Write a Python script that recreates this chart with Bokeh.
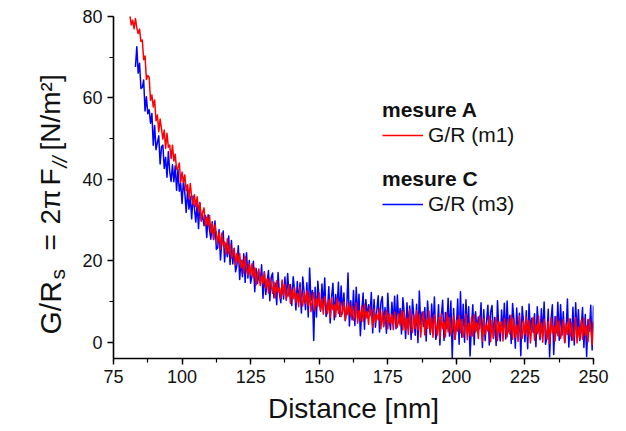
import numpy as np
from math import pi

from bokeh.plotting import figure
from bokeh.layouts import row
from bokeh.models import Legend, LegendItem, Range1d, SingleIntervalTicker
from bokeh.core.properties import value
from bokeh.embed import file_html
from bokeh.resources import INLINE

# ---------------------------------------------------------------------------
# Measured G/R_s versus distance, sampled every 0.5 nm
# ---------------------------------------------------------------------------
DIST_M1 = np.arange(81.0, 250.25, 0.5)   # mesure A, 81 -> 250 nm
DIST_M3 = np.arange(83.0, 250.25, 0.5)   # mesure C, 83 -> 250 nm

GR_M1 = [
    80.2, 77.9, 79.1, 77.0, 79.5, 77.2, 75.8, 76.9, 73.9, 74.2,
    69.4, 70.3, 64.5, 65.5, 65.1, 59.4, 60.7, 57.8, 59.5, 54.4,
    55.8, 51.7, 54.8, 52.4, 49.9, 52.1, 47.6, 51.3, 47.9, 48.4,
    45.1, 48.4, 44.5, 46.2, 42.4, 42.8, 44.0, 39.3, 41.8, 39.2,
    41.1, 37.2, 38.7, 35.3, 39.0, 35.6, 33.8, 36.2, 33.3, 35.7,
    32.0, 34.1, 29.7, 31.9, 33.0, 28.6, 30.7, 28.6, 31.1, 26.9,
    29.1, 25.3, 28.8, 26.7, 24.5, 27.0, 22.9, 26.8, 23.8, 24.6,
    21.6, 25.4, 21.8, 24.0, 20.6, 21.5, 23.1, 18.9, 21.8, 19.6,
    21.8, 18.3, 20.1, 17.0, 21.1, 17.9, 16.5, 19.2, 16.6, 19.3,
    15.9, 18.3, 14.1, 16.7, 18.0, 13.9, 16.3, 14.5, 17.2, 13.3,
    15.6, 12.1, 15.8, 14.0, 12.0, 14.8, 10.9, 15.1, 12.3, 13.3,
    10.8, 15.3, 11.6, 14.2, 10.7, 11.8, 14.1, 9.5, 13.0, 10.7,
    13.5, 9.7, 11.9, 8.7, 13.5, 10.3, 8.9, 12.2, 9.5, 12.7,
    9.0, 12.0, 7.5, 10.5, 12.2, 7.7, 10.7, 8.8, 12.1, 7.8,
    10.6, 6.9, 11.2, 9.3, 7.1, 10.4, 6.1, 10.9, 8.0, 9.2,
    6.2, 10.8, 7.1, 9.8, 6.3, 7.6, 9.9, 5.4, 8.9, 6.7,
    9.7, 6.3, 8.8, 5.4, 6.6, 9.7, 4.7, 7.7, 5.3, 8.9,
    5.1, 9.3, 5.8, 7.5, 4.4, 8.7, 6.9, 3.7, 8.1, 4.9,
    6.9, 5.5, 8.3, 3.3, 7.4, 4.0, 6.0, 7.8, 3.3, 6.9,
    4.7, 6.8, 3.1, 7.4, 5.0, 3.7, 7.0, 4.1, 7.7, 3.0,
    7.6, 3.0, 5.9, 1.9, 8.1, 4.1, 2.4, 6.7, 3.4, 7.7,
    3.0, 6.9, 1.3, 5.2, 7.5, 1.8, 5.7, 3.4, 7.7, 2.3,
    5.9, 1.2, 6.8, 4.4, 1.8, 6.1, 0.8, 7.0, 3.3, 5.0,
    1.3, 7.2, 2.5, 6.1, 1.8, 3.5, 6.4, 0.7, 5.4, 2.7,
    6.6, 2.3, 5.6, 1.3, 2.9, 6.9, 0.6, 4.6, 1.6, 6.2,
    1.5, 6.8, 2.5, 4.8, 0.9, 6.5, 4.2, 0.2, 5.8, 1.9,
    4.4, 2.7, 6.4, 0.1, 5.4, 1.1, 3.7, 6.0, 0.4, 5.1,
    2.3, 5.0, 0.3, 5.9, 3.0, 1.3, 5.6, 2.0, 6.6, 0.7,
    5.8, 1.2, 4.2, 0.2, 6.5, 2.5, 0.9, 5.2, 1.9, 6.2,
    1.5, 5.4, -0.2, 3.8, 6.1, 0.5, 4.4, 2.1, 6.4, 1.1,
    4.7, 0.0, 5.6, 3.3, 0.7, 5.0, -0.3, 6.0, 2.3, 4.0,
    0.3, 6.2, 1.6, 5.2, 0.9, 2.6, 5.5, -0.1, 4.6, 1.9,
    5.8, 1.5, 4.8, 0.5, 2.1, 6.1, -0.2, 3.8, 0.8, 5.4,
    0.7, 6.0, 1.7, 4.0, 0.1, 5.7, 3.4, -0.6, 5.0,
]

GR_M3 = [
    67.6, 72.6, 66.1, 68.5, 62.3, 62.6, 64.4, 56.8, 60.3, 56.1,
    57.1, 53.8, 56.2, 48.4, 53.2, 47.3, 49.0, 50.7, 43.8, 48.0,
    48.4, 42.7, 45.4, 40.5, 46.8, 41.9, 39.5, 43.6, 39.4, 43.3,
    37.3, 42.4, 37.1, 39.0, 34.1, 39.7, 36.7, 31.9, 37.5, 32.7,
    35.8, 30.3, 35.9, 32.9, 29.5, 34.0, 27.9, 34.3, 29.9, 31.2,
    28.6, 31.1, 25.7, 31.3, 27.6, 25.3, 29.6, 25.2, 29.8, 22.8,
    23.2, 27.7, 20.2, 24.7, 27.3, 19.7, 24.3, 21.0, 26.1, 19.1,
    25.0, 19.2, 23.0, 17.3, 19.0, 23.7, 15.4, 20.2, 16.1, 21.7,
    14.7, 22.0, 15.8, 20.1, 14.5, 16.3, 19.9, 12.4, 18.1, 14.4,
    16.9, 14.6, 19.0, 10.8, 17.3, 11.7, 14.8, 17.6, 10.2, 15.9,
    17.0, 10.9, 14.5, 9.2, 17.1, 11.9, 9.7, 14.9, 10.6, 16.0,
    10.3, 16.9, 11.3, 14.2, 9.0, 16.1, 13.0, 7.9, 14.9, 9.8,
    14.6, 7.2, 16.0, 12.2, 8.0, 14.6, 6.2, 18.2, 10.2, 12.7,
    0.4, 13.5, 6.2, 15.0, 10.2, 7.6, 14.3, 8.5, 15.8, 6.3,
    7.5, 13.6, 4.7, 10.9, 14.5, 5.5, 11.7, 8.0, 14.7, 6.3,
    13.8, 7.0, 12.1, 5.3, 7.8, 17.0, 4.0, 10.2, 5.5, 12.7,
    4.1, 13.5, 6.1, 11.8, 1.6, 7.5, 12.1, 3.2, 10.5, 6.2,
    9.2, 6.5, 12.2, 2.3, 10.5, 3.7, 7.8, 11.4, 2.5, 9.8,
    11.2, 3.8, 8.5, 2.2, 12.0, 5.7, 3.1, 9.8, 4.5, 11.3,
    3.3, 11.6, 4.7, 8.3, 2.0, 10.9, 7.2, 0.9, 9.7, 3.5,
    8.9, 0.7, 10.5, 6.4, 1.7, 9.3, -0.1, 12.6, 4.5, 7.4,
    3.9, 8.5, 0.3, 10.1, 4.8, 1.9, 9.4, 3.0, 11.1, 0.7,
    2.3, 9.2, -0.7, 6.3, 10.3, 0.4, 7.3, 3.3, 10.8, 1.5,
    10.1, -3.8, 8.3, 0.7, 3.6, 10.6, -0.5, 12.4, 1.2, 9.3,
    0.0, 10.4, 2.3, 8.7, -3.4, 4.0, 9.2, -0.6, 7.5, 2.9,
    6.2, 3.3, 9.7, -1.3, 8.0, 0.4, 5.1, 9.1, -0.7, 7.4,
    9.0, 0.9, 6.1, -0.8, 10.2, 3.2, 0.3, 7.9, 2.1, 9.6,
    0.8, 10.1, 2.6, 6.6, -0.3, 9.5, 5.5, -1.5, 8.4, 1.4,
    7.1, -3.3, 8.8, 4.8, 0.1, 7.7, -1.6, 9.4, 3.0, 5.9,
    2.4, 7.0, -1.1, 8.7, 3.5, 0.6, 8.2, 1.8, 9.9, -0.5,
    1.1, 8.1, -3.6, 5.2, 9.2, -3.0, 6.3, 2.3, 9.8, 0.5,
    9.2, 1.7, 7.5, -0.1, 2.8, 10.6, -1.2, 5.7, 0.5, 8.6,
    -0.7, 9.7, 1.6, 8.0, 0.4, 3.3, 8.5, -1.3, 6.8, -3.5,
    5.6, 2.7, 9.1, -1.9, 9.0,
]

SERIES = [
    # legend title, legend label, colour, x, y
    ("mesure A", "G/R (m1)", "#ff0000", DIST_M1, GR_M1),
    ("mesure C", "G/R (m3)", "#0000ff", DIST_M3, GR_M3),
]

X_RANGE = (75, 250)
Y_RANGE = (-4, 80)

FONT = "Liberation Sans"
INK = "#111111"

W, H = 626, 431
TITLE_W = 70                      # strip holding the rotated y title
LEFT, RIGHT, TOP, BOTTOM = 43, 33, 16, 73

# ---------------------------------------------------------------------------
# Narrow strip with the rotated y-axis title: G/R_s = 2π F_// [N/m²]
# Its frame is aligned with the main plot's frame (rows align frames), so the
# y range is chosen to make one unit equal one pixel, measured from the
# bottom of the canvas.
# ---------------------------------------------------------------------------
t = figure(width=TITLE_W, height=H, output_backend="svg",
           toolbar_location=None, x_range=Range1d(0, TITLE_W),
           y_range=Range1d(BOTTOM, H - TOP), x_axis_type=None,
           y_axis_type=None, min_border=0,
           min_border_top=TOP, min_border_bottom=BOTTOM)
t.outline_line_color = None
t.grid.visible = False
t.background_fill_color = "white"
t.border_fill_color = "white"

y_title_parts = [
    # text, baseline x, start y (from top), size, style
    ("G/R", 50, 334, "30px", "normal"),
    ("s", 57, 279, "21px", "normal"),
    ("=", 50, 250, "28px", "normal"),
    ("2\u03c0", 50, 224, "28px", "normal"),
    ("F", 50, 185, "28px", "normal"),
    ("//", 59, 167, "20px", "italic"),
    ("[N/m\u00b2]", 50, 150, "28px", "normal"),
]
for text, bx, sy, size, style in y_title_parts:
    t.text(x=[bx], y=[H - sy], text=[text], angle=pi / 2,
           text_font=value(FONT), text_font_size=value(size),
           text_font_style=value(style), text_color=INK,
           text_align="left", text_baseline="alphabetic")

# ---------------------------------------------------------------------------
# Main plot
# ---------------------------------------------------------------------------
p = figure(width=W - TITLE_W, height=H, output_backend="svg",
           toolbar_location=None,
           x_range=Range1d(*X_RANGE), y_range=Range1d(*Y_RANGE),
           min_border_left=LEFT, min_border_right=RIGHT,
           min_border_top=TOP, min_border_bottom=BOTTOM)
p.outline_line_color = None
p.grid.visible = False
p.background_fill_color = "white"
p.border_fill_color = "white"

p.xaxis.ticker = SingleIntervalTicker(interval=25, num_minor_ticks=2)
p.yaxis.ticker = SingleIntervalTicker(interval=20, num_minor_ticks=2)

for ax in (p.xaxis[0], p.yaxis[0]):
    ax.axis_line_color = "black"
    ax.axis_line_width = 1.6
    ax.major_tick_line_color = "black"
    ax.major_tick_line_width = 1.4
    ax.minor_tick_line_color = "black"
    ax.minor_tick_line_width = 1.2
    ax.major_tick_in = 0
    ax.minor_tick_in = 0
    ax.major_tick_out = 6
    ax.minor_tick_out = 4
    ax.major_label_text_font = FONT
    ax.major_label_text_font_size = "18px"
    ax.major_label_text_color = INK
    ax.major_label_standoff = 5

p.xaxis.axis_label = "Distance [nm]"
p.xaxis.axis_label_text_font = FONT
p.xaxis.axis_label_text_font_size = "28px"
p.xaxis.axis_label_text_font_style = "normal"
p.xaxis.axis_label_text_color = INK
p.xaxis.axis_label_standoff = 7

# Curves: blue underneath, red on top
renderers = {}
for title, label, colour, xs, ys in reversed(SERIES):
    renderers[title] = p.line(list(xs), ys, line_color=colour,
                              line_width=1.5, line_join="round")

# Legends, one block per measurement, each with a bold heading
legend_spots = {"mesure A": (269, 211), "mesure C": (269, 142)}
for title, label, colour, xs, ys in SERIES:
    lg = Legend(items=[LegendItem(label=label, renderers=[renderers[title]])],
                title=title, location=legend_spots[title])
    lg.title_text_font = FONT
    lg.title_text_font_size = "21px"
    lg.title_text_font_style = "bold"
    lg.title_text_color = INK
    lg.title_standoff = 1
    lg.label_text_font = FONT
    lg.label_text_font_size = "21px"
    lg.label_text_color = INK
    lg.label_standoff = 5
    lg.glyph_width = 41
    lg.glyph_height = 20
    lg.label_height = 20
    lg.padding = 0
    lg.margin = 0
    lg.spacing = 0
    lg.border_line_color = None
    lg.background_fill_alpha = 0
    p.add_layout(lg)

layout = row(t, p, spacing=0)
open("out.html", "w").write(file_html(layout, INLINE))
